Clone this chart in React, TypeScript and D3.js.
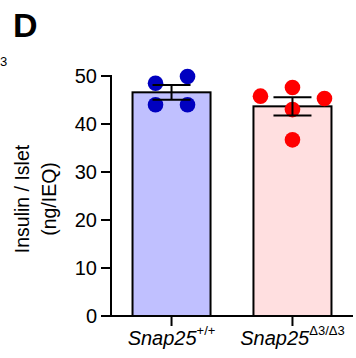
import React from "react";
import * as d3 from "d3";

// genotype groups
const groups = ["wt", "mut"];
const wtValues = [48.5, 49.9, 44.0, 44.0];
const mutValues = [45.8, 47.6, 45.3, 43.0, 36.7];
const yTicks = [0, 10, 20, 30, 40, 50];
const superscripts = ["+/+", "\u03943/\u03943"];

const W = 356, H = 358;
const margin = { top: 76, right: 3, bottom: 42, left: 111 };
const font = "'Liberation Sans', Arial, sans-serif";

const fills = ["#c0c0ff", "#ffdfe0"];
const dots = ["#0000c0", "#ff0000"];
// horizontal slot of each dot (in dot-step units), beeswarm style
const slots = [[-1, 1, -1, 1], [-2, 0, 2, 0, 0]];

export default function App() {
  const y = d3.scaleLinear().domain([0, 50]).range([H - margin.bottom, margin.top]);
  const x = d3.scaleBand().domain(groups)
    .range([margin.left, W - margin.right])
    .paddingInner(0.355).paddingOuter(0.178);
  const series = [wtValues, mutValues];
  const bw = x.bandwidth();
  const y0 = y(0);

  return (
    <svg width={W} height={H} style={{ position: "absolute", left: 0, top: 0 }} fontFamily={font}>
      <text x={13} y={37} fontSize={34} fontWeight="bold">D</text>
      <text x={0} y={66} fontSize={13}>3</text>

      {/* bars */}
      {groups.map((g, i) => {
        const m = d3.mean(series[i])!;
        return (
          <rect key={g} x={x(g)} y={y(m)} width={bw} height={y0 - y(m)}
            fill={fills[i]} stroke="#000" strokeWidth={2} />
        );
      })}

      {/* points */}
      {groups.map((g, i) => {
        const cx = x(g)! + bw / 2;
        return series[i].map((v, j) => (
          <circle key={g + j} cx={cx + slots[i][j] * 16} cy={y(v)} r={7.8} fill={dots[i]} />
        ));
      })}

      {/* error bars (mean ± SEM) */}
      {groups.map((g, i) => {
        const vals = series[i];
        const m = d3.mean(vals)!;
        const sem = d3.deviation(vals)! / Math.sqrt(vals.length);
        const cx = x(g)! + bw / 2;
        const t = y(m + sem), b = y(m - sem);
        return (
          <g key={g} stroke="#000" strokeWidth={2}>
            <line x1={cx} x2={cx} y1={t} y2={b} />
            <line x1={cx - 19} x2={cx + 19} y1={t} y2={t} />
            <line x1={cx - 19} x2={cx + 19} y1={b} y2={b} />
          </g>
        );
      })}

      {/* y axis */}
      <g stroke="#000" strokeWidth={2}>
        <line x1={margin.left} x2={margin.left} y1={y(50) - 1} y2={y0 + 1} />
        {yTicks.map(t => (
          <line key={t} x1={margin.left - 10} x2={margin.left} y1={y(t)} y2={y(t)} />
        ))}
      </g>
      {yTicks.map(t => (
        <text key={t} x={margin.left - 14} y={y(t)} dy="0.35em" textAnchor="end" fontSize={20}>{t}</text>
      ))}

      {/* x axis */}
      <g stroke="#000" strokeWidth={2}>
        <line x1={margin.left} x2={W - margin.right} y1={y0} y2={y0} />
        {groups.map(g => (
          <line key={g} x1={x(g)! + bw / 2} x2={x(g)! + bw / 2} y1={y0} y2={y0 + 10} />
        ))}
      </g>
      {groups.map((g, i) => (
        <text key={g} x={x(g)! + bw / 2} y={345} textAnchor="middle" fontSize={20}>
          <tspan fontStyle="italic">Snap25</tspan>
          <tspan fontSize={13} dy={-10}>{superscripts[i]}</tspan>
        </text>
      ))}

      {/* y label */}
      <g transform={`translate(0,199) rotate(-90)`} fontSize={19.5} textAnchor="middle">
        <text x={0} y={29}>Insulin / Islet</text>
        <text x={0} y={56}>(ng/IEQ)</text>
      </g>
    </svg>
  );
}
